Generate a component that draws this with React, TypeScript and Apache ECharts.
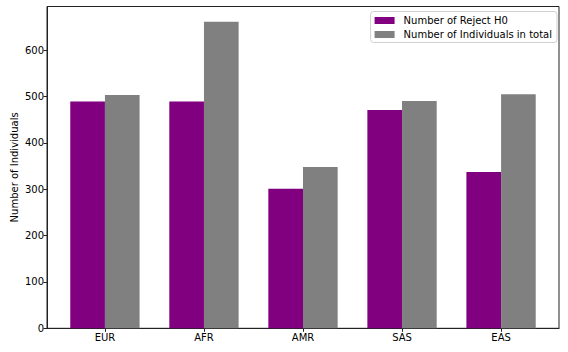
import React, { useEffect, useRef } from "react";
import * as echarts from "echarts";

const categories = ["EUR", "AFR", "AMR", "SAS", "EAS"];
const rejectH0 = [489, 489, 301, 471, 337];
const totalIndividuals = [503, 661, 348, 490, 505];
const yTicks = [0, 100, 200, 300, 400, 500, 600];
const xTicks = [0, 1, 2, 3, 4];

const BAR_W = 0.35;

function barSeries(name: string, values: number[], color: string, startOffset: number) {
  return {
    name,
    type: "custom",
    itemStyle: { color },
    encode: { x: 0, y: 1 },
    data: values.map((v, i) => [i, v]),
    renderItem: (_params: any, api: any) => {
      const x = api.value(0);
      const y = api.value(1);
      const p0 = api.coord([x + startOffset, y]);
      const p1 = api.coord([x + startOffset + BAR_W, 0]);
      return {
        type: "rect",
        shape: { x: p0[0], y: p0[1], width: p1[0] - p0[0], height: p1[1] - p0[1] },
        style: { fill: color },
      };
    },
  };
}

export default function App() {
  const ref = useRef<HTMLDivElement>(null);
  useEffect(() => {
    if (!ref.current) return;
    const chart = echarts.init(ref.current, undefined, { renderer: "svg" });
    const font = "DejaVu Sans";
    const axisColor = "#222";
    chart.setOption({
      animation: false,
      backgroundColor: "#fff",
      textStyle: { fontFamily: font },
      grid: {
        left: 47,
        right: 9,
        top: 6.5,
        bottom: 23.7,
        outerBoundsMode: "none",
        containLabel: false,
        show: true,
        borderColor: axisColor,
        borderWidth: 1,
        backgroundColor: "transparent",
      },
      legend: {
        orient: "vertical",
        right: 11,
        top: 11.5,
        padding: [3, 5, 2, 4],
        itemWidth: 20,
        itemHeight: 7,
        itemGap: 2,
        icon: "rect",
        borderColor: "#d0d0d0",
        borderWidth: 1,
        borderRadius: 3,
        textStyle: {
          fontFamily: font,
          fontSize: 10,
          color: "#000",
          lineHeight: 12,
          padding: [0, 0, 0, 4],
        },
        data: ["Number of Reject H0", "Number of Individuals in total"],
      },
      xAxis: {
        type: "value",
        min: -0.585,
        max: 4.585,
        splitLine: { show: false },
        axisLine: { show: true, onZero: false, lineStyle: { color: axisColor, width: 1 } },
        axisTick: {
          show: true,
          length: 3.5,
          customValues: xTicks,
          lineStyle: { color: axisColor },
        },
        axisLabel: {
          customValues: xTicks,
          formatter: (v: number) => categories[Math.round(v)] ?? "",
          fontFamily: font,
          fontSize: 10,
          color: "#000",
          margin: 4,
        },
      },
      yAxis: {
        type: "value",
        min: 0,
        max: 694,
        name: "Number of Individuals",
        nameLocation: "middle",
        nameGap: 28,
        nameMoveOverlap: false,
        nameTextStyle: { fontFamily: font, fontSize: 10, color: "#000" },
        splitLine: { show: false },
        axisLine: { show: true, onZero: false, lineStyle: { color: axisColor, width: 1 } },
        axisTick: {
          show: true,
          length: 3.5,
          customValues: yTicks,
          lineStyle: { color: axisColor },
        },
        axisLabel: {
          customValues: yTicks,
          fontFamily: font,
          fontSize: 10,
          color: "#000",
          margin: 3,
        },
      },
      series: [
        barSeries("Number of Reject H0", rejectH0, "#800080", -BAR_W),
        barSeries("Number of Individuals in total", totalIndividuals, "#808080", 0),
      ],
    });
    return () => chart.dispose();
  }, []);
  return (
    <div
      ref={ref}
      style={{ position: "absolute", left: 0, top: 0, width: 568, height: 352 }}
    />
  );
}
